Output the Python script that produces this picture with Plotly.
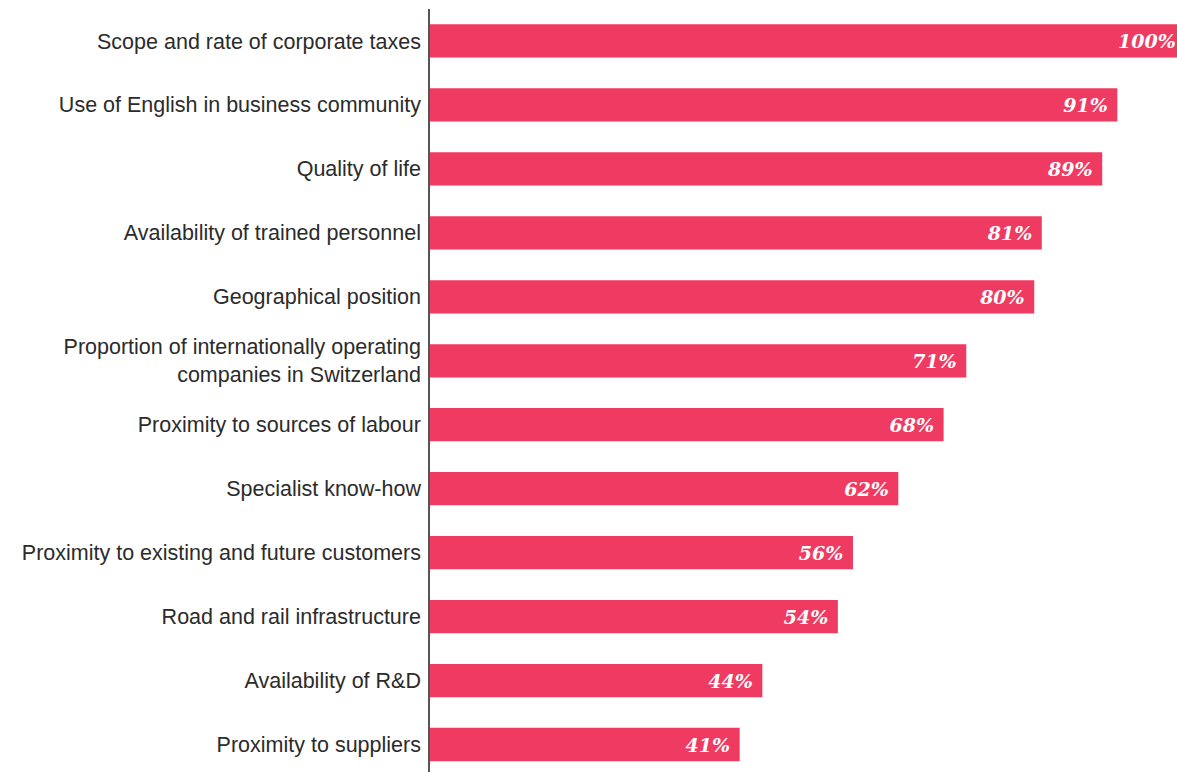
import plotly.graph_objects as go

categories = [
    "Scope and rate of corporate taxes",
    "Use of English in business community",
    "Quality of life",
    "Availability of trained personnel",
    "Geographical position",
    "Proportion of internationally operating<br>companies in Switzerland",
    "Proximity to sources of labour",
    "Specialist know-how",
    "Proximity to existing and future customers",
    "Road and rail infrastructure",
    "Availability of R&D",
    "Proximity to suppliers",
]
values = [100, 91, 89, 81, 80, 71, 68, 62, 56, 54, 44, 41]
labels = [f"{v}%\u00a0" for v in values]

BAR = "#EF3A62"

fig = go.Figure(go.Bar(
    x=values, y=categories, orientation="h",
    marker=dict(color=BAR, line=dict(width=0)),
    width=0.52,
    text=labels, textposition="inside", insidetextanchor="end",
    textfont=dict(family="DejaVu Serif", size=19, color="white", weight="bold", style="italic"),
    textangle=0,
    cliponaxis=True,
    hoverinfo="skip",
))

fig.update_layout(
    width=1177, height=772,
    margin=dict(l=430, r=0, t=9, b=0),
    paper_bgcolor="white", plot_bgcolor="white",
    showlegend=False,
    uniformtext=dict(mode=False),
)
fig.update_xaxes(range=[0, 98.9], visible=False, showgrid=False, zeroline=False)
fig.update_yaxes(
    range=[11.43, -0.5], showgrid=False, zeroline=False,
    showline=True, linecolor="#555555", linewidth=1.5,
    ticks="", ticklabelstandoff=3,
    tickfont=dict(family="Liberation Sans, Arial", size=21.5, color="#2b2b2b"),
)

fig.write_html("out.html")
